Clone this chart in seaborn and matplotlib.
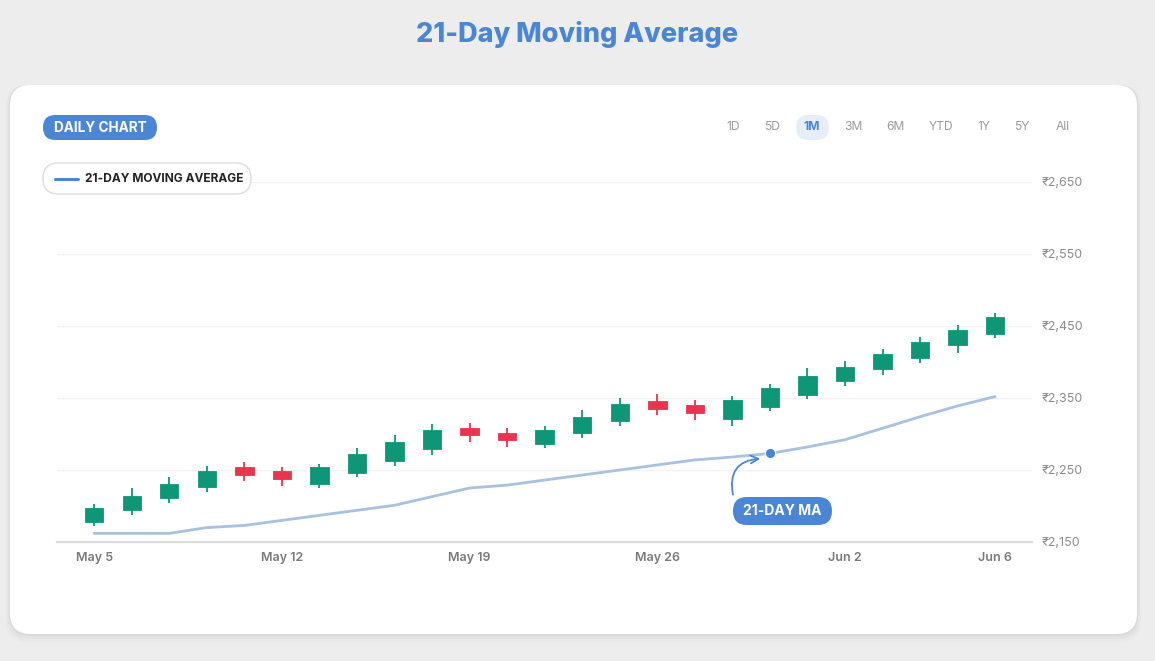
import numpy as np
import pandas as pd
import seaborn as sns
import matplotlib.pyplot as plt
from matplotlib.patches import FancyBboxPatch

# data
dates = ['May 5', 'May 6', 'May 7', 'May 8', 'May 9',
         'May 12', 'May 13', 'May 14', 'May 15', 'May 16',
         'May 19', 'May 20', 'May 21', 'May 22', 'May 23',
         'May 26', 'May 27', 'May 28', 'May 29', 'May 30',
         'Jun 2', 'Jun 3', 'Jun 4', 'Jun 5', 'Jun 6']
opens = [2178, 2194, 2211, 2226, 2254, 2248, 2230, 2246, 2263, 2279,
         2308, 2302, 2286, 2302, 2318, 2346, 2340, 2321, 2338, 2354,
         2374, 2390, 2406, 2423, 2439]
closes = [2197, 2214, 2231, 2249, 2243, 2238, 2254, 2272, 2289, 2306,
          2298, 2292, 2306, 2324, 2341, 2335, 2329, 2347, 2364, 2381,
          2393, 2411, 2428, 2445, 2462]
highs = [2203, 2225, 2240, 2256, 2261, 2254, 2259, 2281, 2298, 2314,
         2315, 2308, 2311, 2333, 2350, 2355, 2347, 2353, 2369, 2391,
         2402, 2418, 2435, 2452, 2468]
lows = [2172, 2188, 2204, 2219, 2235, 2228, 2225, 2240, 2255, 2271,
        2289, 2282, 2280, 2295, 2311, 2327, 2320, 2311, 2332, 2348,
        2367, 2382, 2398, 2413, 2434]
ma21 = [2162, 2162, 2162, 2170, 2173, 2180, 2187, 2194, 2201, 2213,
        2225, 2229, 2236, 2243, 2250, 2257, 2264, 2268, 2273, 2282,
        2292, 2308, 2324, 2339, 2352]
xtick_labels = ['May 5', 'May 12', 'May 19', 'May 26', 'Jun 2', 'Jun 6']
yticks = [2150, 2250, 2350, 2450, 2550, 2650]
ranges = ['1D', '5D', '1M', '3M', '6M', 'YTD', '1Y', '5Y', 'All']
active_range = '1M'
ma_marker_day = 'May 29'

df = pd.DataFrame({'date': dates, 'open': opens, 'close': closes,
                   'high': highs, 'low': lows, 'ma': ma21})
df['i'] = np.arange(len(df))

sns.set_style('white')
plt.rcParams['font.family'] = ['Inter', 'DejaVu Sans']

BLUE = '#4a86d4'
GREEN = '#0f9676'
RED = '#e8344e'
MA_COL = '#a9c1de'

fig = plt.figure(figsize=(11.55, 6.61), dpi=100)
fig.patch.set_facecolor('#ededed')
W, H = 1155, 661


def fx(px):
    return px / W


def fy(py):
    return 1 - py / H


def pill(x0, y0, x1, y1, face, edge='none', z=4, lw=1):
    # rounded box given in pixel coords (top-left origin)
    r = (y1 - y0) / 2 / W
    fig.patches.append(FancyBboxPatch((fx(x0), fy(y1)), fx(x1 - x0), (y1 - y0) / H,
                                      boxstyle=f'round,pad=0,rounding_size={r}', transform=fig.transFigure,
                                      facecolor=face, edgecolor=edge, linewidth=lw, zorder=z,
                                      mutation_aspect=W / H))


# card with soft shadow
for k, a in [(8, 0.015), (5, 0.025), (2, 0.04)]:
    fig.patches.append(FancyBboxPatch((fx(10 - k / 2), fy(634 + k)), fx(1127 + k), (549 + k) / H,
                                      boxstyle='round,pad=0,rounding_size=0.018', transform=fig.transFigure,
                                      facecolor='black', edgecolor='none', alpha=a, zorder=0, mutation_aspect=W / H))
fig.patches.append(FancyBboxPatch((fx(10), fy(634)), fx(1127), 549 / H,
                                  boxstyle='round,pad=0,rounding_size=0.018', transform=fig.transFigure,
                                  facecolor='white', edgecolor='none', zorder=1, mutation_aspect=W / H))

fig.text(0.5, fy(34), '21-Day Moving Average', ha='center', va='center',
         fontsize=19.5, fontweight='heavy', color=BLUE)

ax = fig.add_axes([fx(57), fy(542), fx(1032 - 57), (542 - 182) / H])
ax.set_facecolor('none')
ax.set_zorder(3)

# candles
up = df['close'] >= df['open']
colors = np.where(up, GREEN, RED)
ax.vlines(df['i'], df['low'], df['high'], colors=colors, linewidth=1.3, zorder=3)
ax.bar(df['i'], (df['close'] - df['open']).abs(), bottom=df[['open', 'close']].min(axis=1),
       width=0.49, color=colors, edgecolor=colors, linewidth=0.6, zorder=4)

# moving average
sns.lineplot(data=df, x='i', y='ma', ax=ax, color=MA_COL, linewidth=2, zorder=2)
mi = dates.index(ma_marker_day)
ax.scatter([mi], [ma21[mi]], s=55, color=BLUE, zorder=5, edgecolor='white', linewidth=0.8)

ax.annotate('', xy=(mi - 0.18, ma21[mi] - 7), xytext=(mi - 0.97, 2212),
            arrowprops=dict(arrowstyle='->', color=BLUE, lw=1.3,
                            connectionstyle='arc3,rad=-0.6', mutation_scale=14), zorder=6)

ax.set_xlim(-0.99, 24.98)
ax.set_ylim(2150, 2650)
ax.set_yticks(yticks)
ax.set_yticklabels([f'₹{v:,}' for v in yticks])
ax.yaxis.tick_right()
ax.set_xticks([dates.index(d) for d in xtick_labels])
ax.set_xticklabels(xtick_labels)
ax.tick_params(axis='y', length=0, pad=7, labelsize=9, labelcolor='#8a8a8a')
ax.tick_params(axis='x', length=0, pad=7, labelsize=9, labelcolor='#7a7a7a')
for lab in ax.get_xticklabels():
    lab.set_fontweight('semibold')
ax.set_xlabel('')
ax.set_ylabel('')
for v in yticks[1:]:
    ax.axhline(v, color='#f2f2f2', linewidth=1, zorder=0)
for s in ['top', 'left', 'right']:
    ax.spines[s].set_visible(False)
ax.spines['bottom'].set_color('#dcdcdc')
ax.spines['bottom'].set_linewidth(1.6)

# annotation pill
pill(733, 497, 832, 525, BLUE, z=6)
fig.text(fx(782.5), fy(511), '21-DAY MA', ha='center', va='center', fontsize=10,
         fontweight='bold', color='white', zorder=7)

# header pills
pill(43, 115, 157, 140, BLUE, z=4)
fig.text(fx(100), fy(127.5), 'DAILY CHART', ha='center', va='center', fontsize=9.8,
         fontweight='bold', color='white', zorder=5)

pill(43, 163, 251, 194, 'white', edge='#dddddd', z=4)
fig.lines.append(plt.Line2D([fx(55), fx(78)], [fy(178.5), fy(178.5)], transform=fig.transFigure,
                            color=BLUE, linewidth=2.2, zorder=5))
fig.text(fx(85), fy(178.5), '21-DAY MOVING AVERAGE', ha='left', va='center', fontsize=8.6,
         fontweight='bold', color='#222222', zorder=5)

range_x = [733, 772, 812, 853, 895, 941, 984, 1022, 1063]
for lab, px in zip(ranges, range_x):
    if lab == active_range:
        pill(796, 115, 829, 140, '#e6eef9', z=4)
        fig.text(fx(px), fy(127.5), lab, ha='center', va='center', fontsize=8.7, fontweight='bold',
                 color=BLUE, zorder=5)
    else:
        fig.text(fx(px), fy(127.5), lab, ha='center', va='center', fontsize=8.7,
                 color='#9a9a9a', zorder=5)

fig.savefig('out.png', dpi=100, facecolor=fig.get_facecolor())
